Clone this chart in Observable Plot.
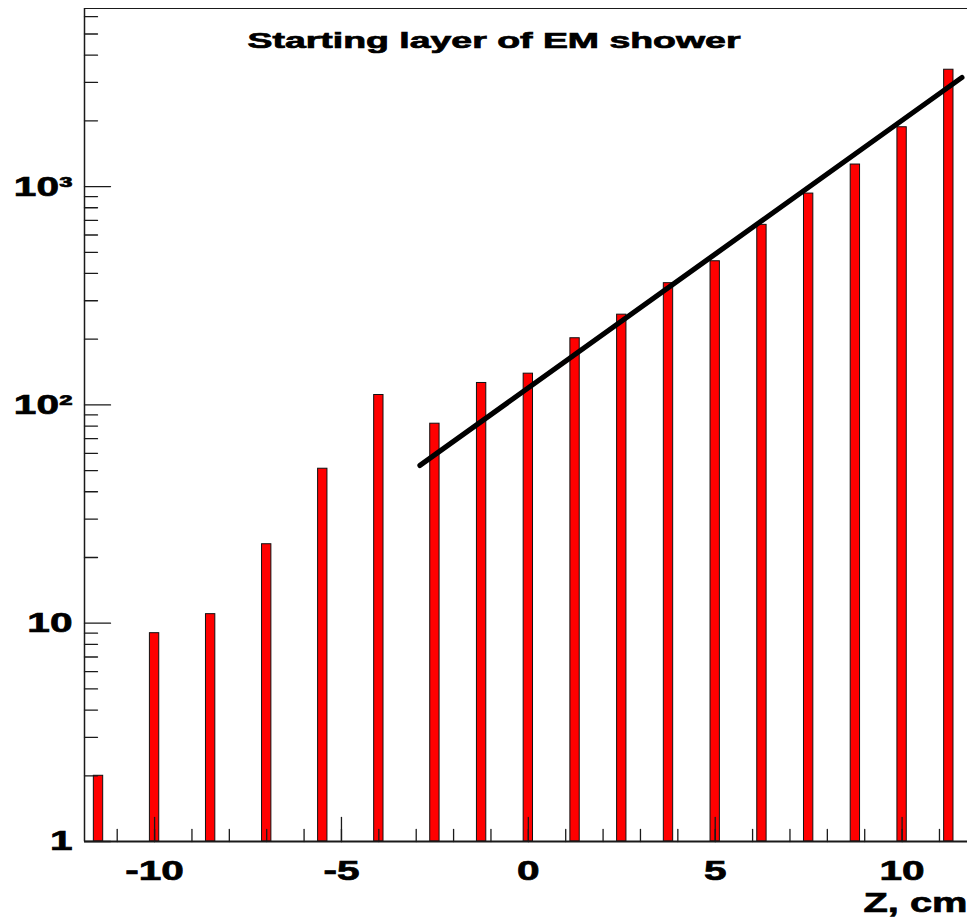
<!DOCTYPE html>
<html>
<head>
<meta charset="utf-8">
<script src="https://cdn.jsdelivr.net/npm/d3@7"></script>
<script src="https://cdn.jsdelivr.net/npm/@observablehq/plot@0.6"></script>
<style>
  html, body { margin: 0; padding: 0; background: #fff; overflow: hidden; }
  #chart { width: 967px; height: 920px; }
</style>
</head>
<body>
<div id="chart"></div>
<script>
// Layer positions along the beam (cm) and number of showers starting there
const layerZ = [-11.5, -10, -8.5, -7, -5.5, -4, -2.5, -1.25, 0, 1.25, 2.5, 3.75, 5, 6.25, 7.5, 8.75, 10, 11.25];
const showerCounts = [2, 9, 11, 23, 51, 111, 82, 126, 139, 202, 259, 361, 455, 668, 929, 1262, 1870, 3430];
const layerHalfWidth = 0.125;

// Exponential fit, given at the two ends of its range
const fitZ = [-2.9, 11.6];
const fitCounts = [52.8, 3160];

// Axis ranges and ticks
const zRange = [-11.875, 11.75];
const countRange = [1, 6543];
const xMajorTicks = [-10, -5, 0, 5, 10];
const xTickLabels = ["-10", "-5", "0", "5", "10"];
const xMinorTicks = [-11, -10, -9, -8, -7, -6, -5, -4, -3, -2, -1, 0, 1, 2, 3, 4, 5, 6, 7, 8, 9, 10, 11];
const yMajorTicks = [1, 10, 100, 1000];
const yTickLabels = ["1", "10", "10²", "10³"];
const yMinorTicks = [2, 3, 4, 5, 6, 7, 8, 9, 20, 30, 40, 50, 60, 70, 80, 90,
  200, 300, 400, 500, 600, 700, 800, 900, 2000, 3000, 4000, 5000, 6000];

const titleText = "Starting layer of EM shower";
const xTitleText = "Z, cm";

const bars = layerZ.map((z, i) => ({z, count: showerCounts[i]}));
const fit = fitZ.map((z, i) => ({z, count: fitCounts[i]}));

// Tick drawn from the anchor point along the vector direction
const tickShape = {draw(ctx, l) { ctx.moveTo(0, 0); ctx.lineTo(0, -l); }};
const axisColor = "#1a1a1a";
const labelFont = "'Liberation Sans', Arial, Helvetica, sans-serif";

const chart = Plot.plot({
  width: 967,
  height: 920,
  marginLeft: 84,
  marginRight: 0,
  marginTop: 8,
  marginBottom: 79,
  style: {background: "#fff", fontFamily: labelFont, fontWeight: "bold", color: "#000"},
  x: {domain: zRange},
  y: {type: "log", domain: countRange},
  marks: [
    Plot.rectY(bars, {
      x1: d => d.z - layerHalfWidth,
      x2: d => d.z + layerHalfWidth,
      y1: countRange[0],
      y2: "count",
      fill: "#ff0000",
      stroke: "#111",
      strokeWidth: 1
    }),
    Plot.line(fit, {x: "z", y: "count", stroke: "#000", strokeWidth: 5.2}),

    // frame: top, left and bottom edges
    Plot.ruleY([countRange[1]], {stroke: axisColor, strokeWidth: 1.2}),
    Plot.ruleX([zRange[0]], {stroke: axisColor, strokeWidth: 1.5}),
    Plot.ruleY([countRange[0]], {stroke: axisColor, strokeWidth: 2}),

    // inward ticks
    Plot.vector(xMinorTicks, {x: d => d, frameAnchor: "bottom", length: 12, rotate: 0, anchor: "start", shape: tickShape, stroke: axisColor, strokeWidth: 1.3}),
    Plot.vector(xMajorTicks, {x: d => d, frameAnchor: "bottom", length: 24, rotate: 0, anchor: "start", shape: tickShape, stroke: axisColor, strokeWidth: 1.3}),
    Plot.vector(yMinorTicks, {y: d => d, frameAnchor: "left", length: 13, rotate: 90, anchor: "start", shape: tickShape, stroke: axisColor, strokeWidth: 1.3}),
    Plot.vector(yMajorTicks, {y: d => d, frameAnchor: "left", length: 26, rotate: 90, anchor: "start", shape: tickShape, stroke: axisColor, strokeWidth: 1.3}),

    // tick labels
    Plot.axisX({
      ticks: xMajorTicks,
      tickFormat: d => xTickLabels[xMajorTicks.indexOf(d)],
      tickSize: 0,
      tickPadding: 19,
      fontSize: 28,
      fontWeight: "bold",
      label: null
    }),
    Plot.axisY({
      ticks: yMajorTicks,
      tickFormat: d => yTickLabels[yMajorTicks.indexOf(d)],
      tickSize: 0,
      tickPadding: 12,
      fontSize: 28,
      fontWeight: "bold",
      label: null
    }),

    // titles
    Plot.text([titleText], {frameAnchor: "top", dx: -32, dy: 32, lineAnchor: "middle", fontSize: 22, fontWeight: "bold", fill: "#000", className: "plot-title"}),
    Plot.text([xTitleText], {frameAnchor: "bottom-right", textAnchor: "end", dy: 62, lineAnchor: "middle", fontSize: 28, fontWeight: "bold", fill: "#000", className: "x-title"})
  ]
});

document.getElementById("chart").appendChild(chart);

// Wide, heavy lettering: stretch the glyphs horizontally around their anchor
function stretch(sel, sx) {
  sel.each(function () {
    const t = d3.select(this);
    const tr = t.attr("transform");
    if (tr && tr.includes("translate")) {
      t.attr("transform", tr + ` scale(${sx},1)`);
    } else {
      const x = +(t.attr("x") || 0), y = +(t.attr("y") || 0);
      t.attr("x", null).attr("y", null).attr("transform", `${tr ? tr + " " : ""}translate(${x},${y}) scale(${sx},1)`);
    }
  });
}
const svg = d3.select(chart);
stretch(svg.selectAll('g[aria-label="x-axis tick label"] text'), 1.45);
stretch(svg.selectAll('g[aria-label="y-axis tick label"] text'), 1.45);
svg.selectAll(".plot-title text, g.plot-title text").attr("textLength", 493).attr("lengthAdjust", "spacingAndGlyphs");
svg.selectAll(".x-title text, g.x-title text").attr("textLength", 104).attr("lengthAdjust", "spacingAndGlyphs");
// thicken the bold lettering slightly
svg.selectAll('g[aria-label="x-axis tick label"] text, g[aria-label="y-axis tick label"] text, .plot-title text, g.plot-title text, .x-title text, g.x-title text')
  .attr("stroke", "#000").attr("stroke-width", 0.7).attr("paint-order", "fill");
</script>
</body>
</html>
